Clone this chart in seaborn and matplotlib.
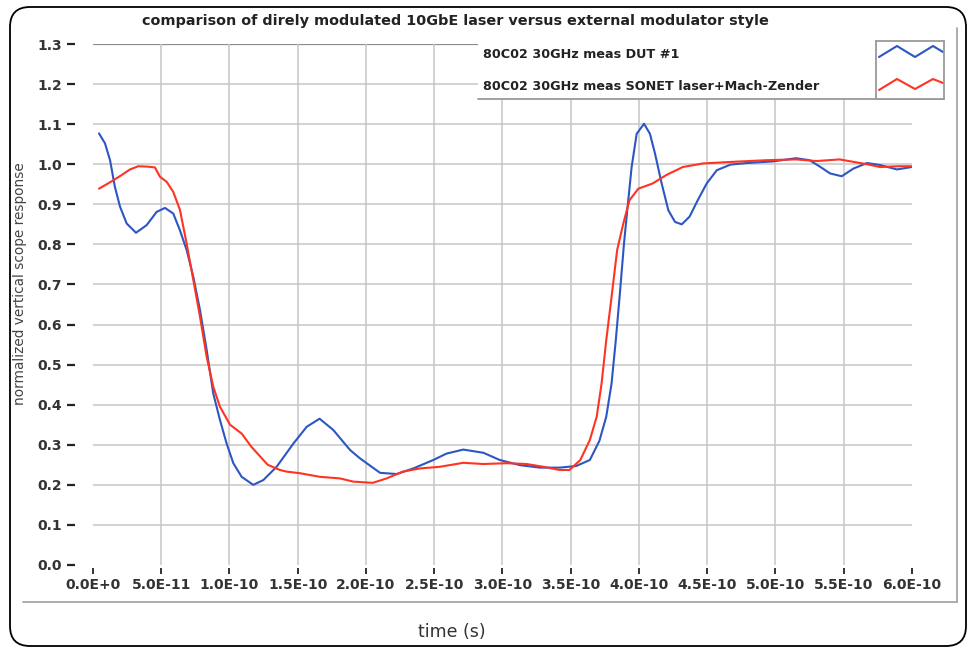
import pandas as pd
import matplotlib
matplotlib.use("Agg")
import matplotlib.pyplot as plt
import seaborn as sns
from matplotlib.patches import FancyBboxPatch, Rectangle
from matplotlib.lines import Line2D

# --- data (time in ps, normalized response) ---
dut_time_ps = [4.4, 8.8, 12.5, 16.0, 19.8, 24.7, 31.5, 39.3, 46.6, 52.7,
               58.8, 63.7, 68.6, 73.5, 78.4, 83.3, 88.1, 93.0, 97.9, 102.8,
               108.9, 117.4, 124.8, 134.5, 146.8, 156.6, 166.0, 176.0, 188.3, 195.6,
               210.3, 222.5, 234.7, 249.3, 259.0, 271.3, 286.0, 298.0, 313.0, 327.5,
               342.0, 354.0, 364.0, 371.0, 376.0, 379.9, 383.0, 386.0, 389.0, 391.4,
               394.6, 398.3, 403.7, 408.0, 411.7, 416.6, 421.5, 426.4, 431.3, 437.0,
               443.0, 449.6, 457.0, 467.0, 479.0, 498.0, 515.0, 525.0, 533.0, 540.0,
               548.5, 557.0, 567.0, 576.6, 589.0, 599.7]
dut_resp = [1.077, 1.052, 1.01, 0.944, 0.894, 0.852, 0.829, 0.848, 0.881, 0.891,
            0.877, 0.835, 0.786, 0.719, 0.636, 0.536, 0.428, 0.362, 0.303, 0.254,
            0.22, 0.2, 0.212, 0.245, 0.303, 0.345, 0.365, 0.337, 0.287, 0.266,
            0.23, 0.227, 0.241, 0.262, 0.278, 0.288, 0.28, 0.262, 0.249, 0.243,
            0.243, 0.247, 0.262, 0.31, 0.37, 0.453, 0.561, 0.678, 0.802, 0.885,
            0.993, 1.076, 1.101, 1.076, 1.027, 0.952, 0.885, 0.856, 0.85, 0.869,
            0.91, 0.952, 0.985, 0.999, 1.003, 1.007, 1.015, 1.01, 0.993, 0.977,
            0.97, 0.989, 1.003, 0.998, 0.987, 0.993]

sonet_time_ps = [4.4, 10.0, 14.9, 21.0, 27.1, 33.2, 40.0, 45.4, 49.0, 54.0,
                 58.8, 63.7, 68.6, 73.5, 78.4, 83.3, 88.1, 93.0, 100.4, 108.9,
                 116.0, 128.0, 137.0, 141.9, 151.6, 166.3, 181.0, 190.7, 205.0, 215.0,
                 227.0, 239.6, 254.0, 271.3, 286.0, 303.0, 317.6, 330.0, 342.0, 349.0,
                 357.0, 364.0, 369.0, 372.6, 376.0, 379.9, 384.0, 388.5, 393.0, 399.5,
                 410.0, 420.0, 432.0, 447.0, 469.0, 493.0, 515.0, 530.0, 547.0, 567.0,
                 576.6, 590.0, 599.7]
sonet_resp = [0.939, 0.95, 0.96, 0.973, 0.987, 0.995, 0.994, 0.992, 0.969, 0.956,
              0.931, 0.886, 0.802, 0.711, 0.619, 0.519, 0.445, 0.395, 0.35, 0.328,
              0.295, 0.25, 0.237, 0.233, 0.229, 0.22, 0.216, 0.208, 0.205, 0.216,
              0.233, 0.241, 0.245, 0.255, 0.252, 0.254, 0.252, 0.245, 0.237, 0.237,
              0.262, 0.312, 0.37, 0.453, 0.561, 0.669, 0.786, 0.852, 0.91, 0.939,
              0.952, 0.973, 0.993, 1.002, 1.006, 1.01, 1.012, 1.008, 1.012, 1.0,
              0.993, 0.995, 0.995]

series_names = ["80C02 30GHz meas DUT #1", "80C02 30GHz meas SONET laser+Mach-Zender"]
series_colors = ["#2c56c2", "#ff3322"]

x_ticks = [0.0, 5e-11, 1e-10, 1.5e-10, 2e-10, 2.5e-10, 3e-10, 3.5e-10,
           4e-10, 4.5e-10, 5e-10, 5.5e-10, 6e-10]
x_tick_labels = ["0.0E+0", "5.0E-11", "1.0E-10", "1.5E-10", "2.0E-10", "2.5E-10", "3.0E-10",
                 "3.5E-10", "4.0E-10", "4.5E-10", "5.0E-10", "5.5E-10", "6.0E-10"]
y_ticks = [0.0, 0.1, 0.2, 0.3, 0.4, 0.5, 0.6, 0.7, 0.8, 0.9, 1.0, 1.1, 1.2, 1.3]

title = "comparison of direly modulated 10GbE laser versus external modulator style"

df = pd.concat([
    pd.DataFrame({"time": [t * 1e-12 for t in dut_time_ps], "response": dut_resp,
                  "series": series_names[0]}),
    pd.DataFrame({"time": [t * 1e-12 for t in sonet_time_ps], "response": sonet_resp,
                  "series": series_names[1]}),
])

sns.set_style("white")
plt.rcParams["font.family"] = ["DejaVu Sans"]

fig = plt.figure(figsize=(9.7, 6.48), dpi=100)

# background layer in pixel coordinates for the frame and the loose texts
bg = fig.add_axes([0, 0, 1, 1], zorder=-1)
bg.set_xlim(0, 970)
bg.set_ylim(648, 0)
bg.axis("off")
bg.add_patch(FancyBboxPatch((10, 7), 956, 639, boxstyle="round,pad=0,rounding_size=20",
                            fill=False, ec="black", lw=1.3, clip_on=False))
bg.plot([23, 957], [602, 602], color="#a6a6a6", lw=1.3)
bg.plot([957, 957], [28, 602], color="#a6a6a6", lw=1.3)
bg.text(455, 21, title, ha="center", va="center", fontsize=10.4, fontweight="bold", color="#222")
bg.text(452, 632, "time (s)", ha="center", va="center", fontsize=12.5, color="#333")
bg.text(20, 284, "normalized vertical scope response", rotation=90,
        ha="center", va="center", fontsize=9.8, color="#444")

ax = fig.add_axes([93 / 970, 83 / 648, 819 / 970, 521 / 648])
ax.set_facecolor("white")

for y in y_ticks[1:-1]:
    ax.axhline(y, color="#c6c6c6", lw=1.1, zorder=0)
ax.axhline(y_ticks[-1], color="#8c8c8c", lw=1.6, zorder=0)
for x in x_ticks[1:-1]:
    ax.axvline(x, color="#c6c6c6", lw=1.1, zorder=0)

sns.lineplot(data=df, x="time", y="response", hue="series", hue_order=series_names,
             palette=series_colors, estimator=None, sort=False, lw=1.5,
             legend=False, ax=ax, zorder=3)

ax.set_xlim(x_ticks[0], x_ticks[-1])
ax.set_ylim(y_ticks[0], y_ticks[-1])
ax.set_xticks(x_ticks)
ax.set_xticklabels(x_tick_labels)
ax.set_yticks(y_ticks)
ax.set_yticklabels([f"{v:.1f}" for v in y_ticks])
ax.set_xlabel("")
ax.set_ylabel("")

for s in ax.spines.values():
    s.set_visible(False)
ax.spines["left"].set_position(("outward", 13))
ax.spines["bottom"].set_position(("outward", 2.2))
ax.tick_params(axis="y", left=True, length=5.8, width=1.6, color="#222",
               pad=3.5, labelsize=10, labelcolor="#333")
ax.tick_params(axis="x", bottom=True, length=4.3, width=1.3, color="#222",
               pad=3, labelsize=10, labelcolor="#333")
for lab in ax.get_xticklabels() + ax.get_yticklabels():
    lab.set_fontweight("bold")

# legend panel in the upper right, drawn in pixel coordinates
ax.add_patch(Rectangle((478, 36), 466, 63, transform=bg.transData, fc="white",
                       ec="none", zorder=5, clip_on=False))
ax.add_line(Line2D([478, 944], [99, 99], transform=bg.transData, color="#9a9a9a",
                   lw=1.3, zorder=6, clip_on=False))
for name, ty in zip(series_names, [55, 87]):
    ax.text(483, ty, name, transform=bg.transData, ha="left", va="center",
            fontsize=9.2, fontweight="bold", color="#222", zorder=7, clip_on=False)

sw = fig.add_axes([876 / 970, 1 - 99 / 648, 68 / 970, 58 / 648], zorder=3)
sw.set_xlim(876, 944)
sw.set_ylim(99, 41)
sw.set_xticks([])
sw.set_yticks([])
for s in sw.spines.values():
    s.set_color("#9a9a9a")
    s.set_linewidth(1.3)
zig_x = [879, 897, 915, 933, 943]
sw.plot(zig_x, [57, 46, 57, 46, 52], color=series_colors[0], lw=1.5)
sw.plot(zig_x, [90, 79, 89, 79, 83], color=series_colors[1], lw=1.5)

fig.savefig("out.png", dpi=100)
